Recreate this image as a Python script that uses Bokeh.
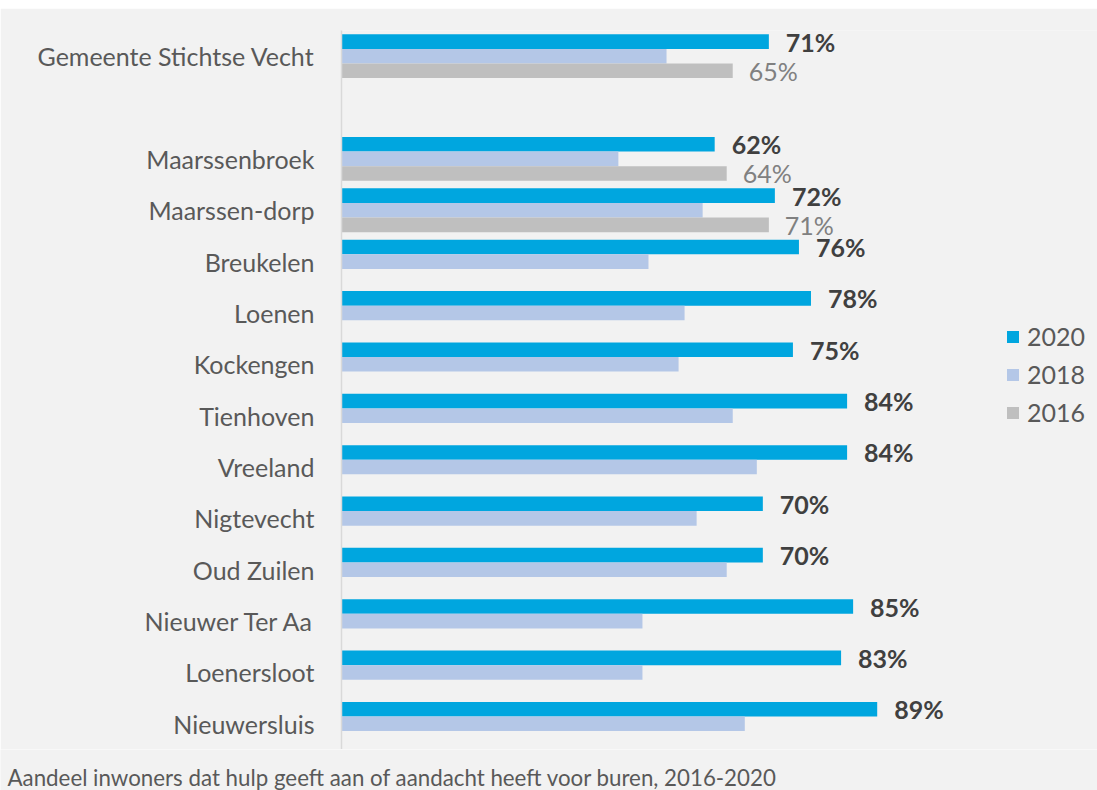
from bokeh.plotting import figure
from bokeh.layouts import column
from bokeh.models import (FactorRange, Range1d, Legend, LegendItem, Label,
                          ColumnDataSource, Spacer)
from bokeh.transform import dodge
from bokeh.core.properties import value
from bokeh.embed import file_html
from bokeh.resources import INLINE

# ---- data ----
categories = ["Gemeente Stichtse Vecht", "Maarssenbroek", "Maarssen-dorp",
              "Breukelen", "Loenen", "Kockengen", "Tienhoven", "Vreeland",
              "Nigtevecht", "Oud Zuilen", "Nieuwer Ter Aa", "Loenersloot",
              "Nieuwersluis"]
v2020 = [71, 62, 72, 76, 78, 75, 84, 84, 70, 70, 85, 83, 89]
v2018 = [54, 46, 60, 51, 57, 56, 65, 69, 59, 64, 50, 50, 67]
v2016 = [65, 64, 71, None, None, None, None, None, None, None, None, None, None]
years = ["2020", "2018", "2016"]
caption = "Aandeel inwoners dat hulp geeft aan of aandacht heeft voor buren, 2016-2020"

FONT = "Lato"
BG = "#F2F2F2"
C2020, C2018, C2016 = "#00A6DF", "#B4C7E7", "#BFBFBF"

factors = [categories[0], " "] + categories[1:]
y_range = FactorRange(factors=list(reversed(factors)))

p = figure(width=1097, height=741, y_range=y_range, x_range=Range1d(0, 125.6),
           x_axis_type=None, output_backend="svg", toolbar_location=None,
           min_border_left=341, min_border_right=0, min_border_top=22,
           min_border_bottom=0)
p.background_fill_color = BG
p.border_fill_color = BG
p.outline_line_color = None
p.grid.visible = False

bh = 0.284
src20 = ColumnDataSource(dict(cat=categories, v=v2020,
                              lab=[f"{v}%" for v in v2020]))
src18 = ColumnDataSource(dict(cat=categories, v=v2018))
c16 = [c for c, v in zip(categories, v2016) if v is not None]
v16 = [v for v in v2016 if v is not None]
src16 = ColumnDataSource(dict(cat=c16, v=v16, lab=[f"{v}%" for v in v16]))

r20 = p.hbar(y=dodge("cat", bh, range=p.y_range), right="v", left=0, height=bh,
             source=src20, fill_color=C2020, line_color=None)
r18 = p.hbar(y=dodge("cat", 0, range=p.y_range), right="v", left=0, height=bh,
             source=src18, fill_color=C2018, line_color=None)
r16 = p.hbar(y=dodge("cat", -bh, range=p.y_range), right="v", left=0, height=bh,
             source=src16, fill_color=C2016, line_color=None)

p.text(x="v", y=dodge("cat", bh, range=p.y_range), text="lab", source=src20,
       x_offset=17, text_baseline="middle", text_font=value(FONT),
       text_font_size="25px", text_font_style="bold", text_color="#404040")
p.text(x="v", y=dodge("cat", -bh, range=p.y_range), text="lab", source=src16,
       x_offset=16, text_baseline="middle", text_font=value(FONT),
       text_font_size="25px", text_color="#808080")

ax = p.yaxis[0]
ax.axis_line_color = "#D9D9D9"
ax.axis_line_width = 1.5
ax.major_tick_line_color = None
ax.minor_tick_line_color = None
ax.major_tick_out = 0
ax.major_tick_in = 0
ax.major_label_standoff = 27
ax.major_label_text_font = FONT
ax.major_label_text_font_size = "25px"
ax.major_label_text_color = "#595959"

legend = Legend(items=[LegendItem(label=years[0], renderers=[r20]),
                       LegendItem(label=years[1], renderers=[r18]),
                       LegendItem(label=years[2], renderers=[r16])],
                location=(664, 322))
legend.background_fill_alpha = 0
legend.border_line_color = None
legend.padding = 0
legend.margin = 0
legend.glyph_width = 15
legend.glyph_height = 15
legend.label_standoff = 7
legend.label_height = 30
legend.spacing = 8
legend.label_text_font = FONT
legend.label_text_font_size = "25px"
legend.label_text_color = "#595959"
p.add_layout(legend, "center")

# caption strip (separate root so its frame is not aligned with the chart)
c = figure(width=1097, height=41, x_range=Range1d(0, 1), y_range=Range1d(0, 1),
           x_axis_type=None, y_axis_type=None, output_backend="svg",
           toolbar_location=None, min_border=0)
c.background_fill_color = BG
c.border_fill_color = BG
c.outline_line_color = None
c.grid.visible = False
c.add_layout(Label(x=7, y=13, x_units="screen", y_units="screen", text=caption,
                   text_baseline="middle", text_font=FONT,
                   text_font_size="22.3px", text_color="#595959"))

top = column(Spacer(width=1097, height=8, styles={"background-color": "white"}),
             p, spacing=0)
html = file_html([top, c], INLINE)
html = html.replace("<body>", '<body style="background-color:#F2F2F2;">', 1)
open("out.html", "w").write(html)
